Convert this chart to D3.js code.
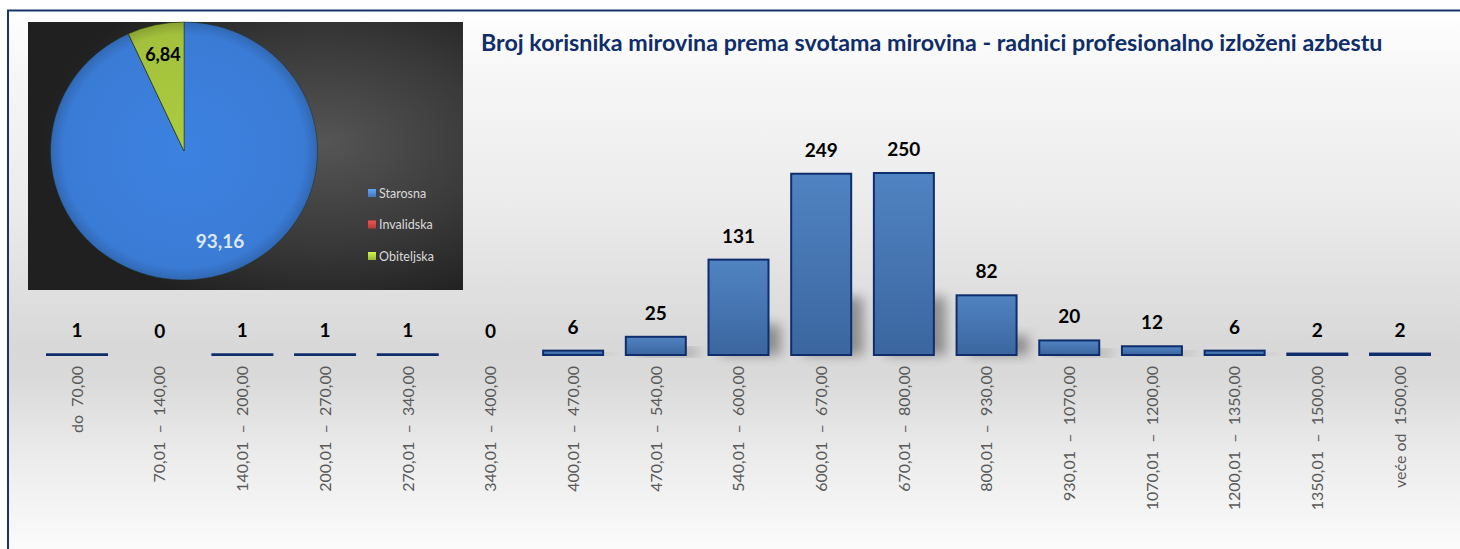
<!DOCTYPE html>
<html>
<head>
<meta charset="utf-8">
<script src="https://cdn.jsdelivr.net/npm/d3@7/dist/d3.min.js"></script>
<style>
  html, body { margin: 0; padding: 0; background: #ffffff; }
  svg { display: block; }
  text { font-family: Lato, "Open Sans", "Noto Sans", sans-serif; }
</style>
</head>
<body>
<svg id="chart" width="1460" height="549"></svg>
<script>
// Pension amount brackets (kn) and number of beneficiaries in each
const categories = [
  "do  70,00", "70,01  –  140,00", "140,01  –  200,00", "200,01  –  270,00",
  "270,01  –  340,00", "340,01  –  400,00", "400,01  –  470,00", "470,01  –  540,00",
  "540,01  –  600,00", "600,01  –  670,00", "670,01  –  800,00", "800,01  –  930,00",
  "930,01  –  1070,00", "1070,01  –  1200,00", "1200,01  –  1350,00",
  "1350,01  –  1500,00", "veće od  1500,00"
];
const counts = [1, 0, 1, 1, 1, 0, 6, 25, 131, 249, 250, 82, 20, 12, 6, 2, 2];

// Share of pension types (%)
const pensionTypes = ["Starosna", "Invalidska", "Obiteljska"];
const pensionShares = [93.16, 0, 6.84];
const pieColors = ["#3a7bd5", "#c0504d", "#a3c13c"];
const legendColors = ["#4a86cf", "#c8433f", "#a9c93e"];

const title = "Broj korisnika mirovina prema svotama mirovina - radnici profesionalno izloženi azbestu";

const svg = d3.select("#chart");
const defs = svg.append("defs");

// ---- backdrop gradient of the outer frame
const bg = defs.append("linearGradient").attr("id", "bgGrad")
  .attr("x1", 0).attr("y1", 0).attr("x2", 0).attr("y2", 1);
[[0, "#ffffff"], [0.12, "#f6f6f6"], [0.35, "#ebebeb"], [0.6, "#d8d8d8"],
 [0.66, "#dadada"], [0.8, "#ececec"], [1, "#fefefe"]]
  .forEach(([o, c]) => bg.append("stop").attr("offset", o).attr("stop-color", c));

const barGrad = defs.append("linearGradient").attr("id", "barGrad")
  .attr("x1", 0).attr("y1", 0).attr("x2", 0).attr("y2", 1);
barGrad.append("stop").attr("offset", 0).attr("stop-color", "#5083c2");
barGrad.append("stop").attr("offset", 1).attr("stop-color", "#3b669f");

const shadowBlur = defs.append("filter").attr("id", "barShadow")
  .attr("x", "-50%").attr("y", "-50%").attr("width", "200%").attr("height", "200%");
shadowBlur.append("feGaussianBlur").attr("stdDeviation", 6);

const panelGrad = defs.append("radialGradient").attr("id", "panelGrad")
  .attr("cx", 0.68).attr("cy", 0.45).attr("r", 0.65);
panelGrad.append("stop").attr("offset", 0).attr("stop-color", "#555555");
panelGrad.append("stop").attr("offset", 0.6).attr("stop-color", "#383838");
panelGrad.append("stop").attr("offset", 1).attr("stop-color", "#202020");

pieColors.forEach((c, i) => {
  const g = defs.append("radialGradient").attr("id", "slice" + i)
    .attr("gradientUnits", "userSpaceOnUse")
    .attr("cx", 0).attr("cy", 0).attr("r", 134);
  const base = d3.color(c);
  g.append("stop").attr("offset", 0).attr("stop-color", base.brighter(0.15));
  g.append("stop").attr("offset", 0.9).attr("stop-color", base);
  g.append("stop").attr("offset", 1).attr("stop-color", base.darker(0.5));
});

legendColors.forEach((c, i) => {
  const g = defs.append("linearGradient").attr("id", "leg" + i)
    .attr("x1", 0).attr("y1", 0).attr("x2", 0).attr("y2", 1);
  g.append("stop").attr("offset", 0).attr("stop-color", d3.color(c).brighter(0.6));
  g.append("stop").attr("offset", 1).attr("stop-color", d3.color(c).darker(0.3));
});

// ---- outer frame
svg.append("rect").attr("x", 8).attr("y", 10).attr("width", 1460).attr("height", 560)
  .attr("fill", "url(#bgGrad)");
svg.append("path").attr("d", "M8,549 V10.5 H1460")
  .attr("fill", "none").attr("stroke", "#17356a").attr("stroke-width", 2);

// ---- bar chart
const x = d3.scaleBand().domain(categories)
  .range([35.66, 1441.34]).paddingInner(0.2744).paddingOuter(0.1372);
const y = d3.scaleLinear().domain([0, 250]).range([355, 173]);

const plot = svg.append("g");

// soft cast shadows behind the bars
plot.selectAll("rect.shadow").data(counts).join("rect")
  .attr("class", "shadow")
  .attr("x", (d, i) => x(categories[i]) + 12)
  .attr("y", d => y(d * 0.32))
  .attr("width", x.bandwidth())
  .attr("height", d => y(0) - y(d * 0.32))
  .attr("fill", "#000").attr("opacity", 0.35)
  .attr("filter", "url(#barShadow)");

plot.selectAll("rect.bar").data(counts).join("rect")
  .attr("class", "bar")
  .attr("x", (d, i) => x(categories[i]))
  .attr("y", d => y(d))
  .attr("width", x.bandwidth())
  .attr("height", d => Math.max(0, y(0) - y(d)))
  .attr("fill", "url(#barGrad)")
  .attr("stroke", d => d > 0 ? "#102d6b" : "none")
  .attr("stroke-width", 2);

plot.selectAll("text.val").data(counts).join("text")
  .attr("class", "val")
  .attr("x", (d, i) => x(categories[i]) + x.bandwidth() / 2)
  .attr("y", d => y(d) - 17)
  .attr("text-anchor", "middle")
  .attr("font-weight", 700).attr("font-size", 19).attr("fill", "#000")
  .text(d => d);

plot.selectAll("text.cat").data(categories).join("text")
  .attr("class", "cat")
  .attr("transform", d => `translate(${x(d) + x.bandwidth() / 2},366) rotate(-90)`)
  .attr("dy", "0.36em")
  .attr("text-anchor", "end")
  .attr("font-size", 16).attr("fill", "#595959")
  .style("white-space", "pre")
  .text(d => d);

// ---- title, sized to its line
const t = svg.append("text")
  .attr("x", 481).attr("y", 51)
  .attr("font-weight", 700).attr("font-size", 20).attr("fill", "#0f2d69")
  .text(title);
const tw = t.node().getComputedTextLength();
t.attr("font-size", 20 * 902 / tw);

// ---- inset pie of pension types
svg.append("rect").attr("x", 28).attr("y", 22).attr("width", 435).attr("height", 268)
  .attr("fill", "url(#panelGrad)");

const R = 133.5;
const pieG = svg.append("g").attr("transform", "translate(184,151) scale(1,0.966)");
const arcs = d3.pie().sort(null).value(d => d)(pensionShares);
const arc = d3.arc().innerRadius(0).outerRadius(R);

pieG.selectAll("path").data(arcs).join("path")
  .attr("d", arc)
  .attr("fill", (d, i) => `url(#slice${i})`)
  .attr("stroke", "#1d2a10").attr("stroke-opacity", 0.6).attr("stroke-width", 0.8);

const labelArc = d3.arc().innerRadius(R * 0.74).outerRadius(R * 0.74);
const fmt = v => d3.format(".2f")(v).replace(".", ",");
const labelShift = [[15, -6], [0, 0], [0, 0]];
svg.append("g").attr("transform", "translate(184,151)")
  .selectAll("text").data(arcs.filter(d => d.value > 0)).join("text")
  .attr("x", d => labelArc.centroid(d)[0] + labelShift[d.index][0])
  .attr("y", d => labelArc.centroid(d)[1] + labelShift[d.index][1])
  .attr("dy", "0.36em")
  .attr("text-anchor", "middle")
  .attr("font-weight", 700)
  .attr("font-size", d => d.index === 0 ? 19 : 18)
  .attr("fill", d => d.index === 0 ? "#dce6f4" : "#000")
  .text(d => fmt(d.value));

const legend = svg.append("g").attr("transform", "translate(368,193)");
const li = legend.selectAll("g").data(pensionTypes).join("g")
  .attr("transform", (d, i) => `translate(0,${i * 31.5})`);
li.append("rect").attr("x", 0).attr("y", -4).attr("width", 8).attr("height", 8)
  .attr("fill", (d, i) => `url(#leg${i})`);
li.append("text").attr("x", 11).attr("y", 0).attr("dy", "0.36em")
  .attr("font-size", 12.5).attr("fill", "#d9d9d9")
  .text(d => d);
</script>
</body>
</html>
